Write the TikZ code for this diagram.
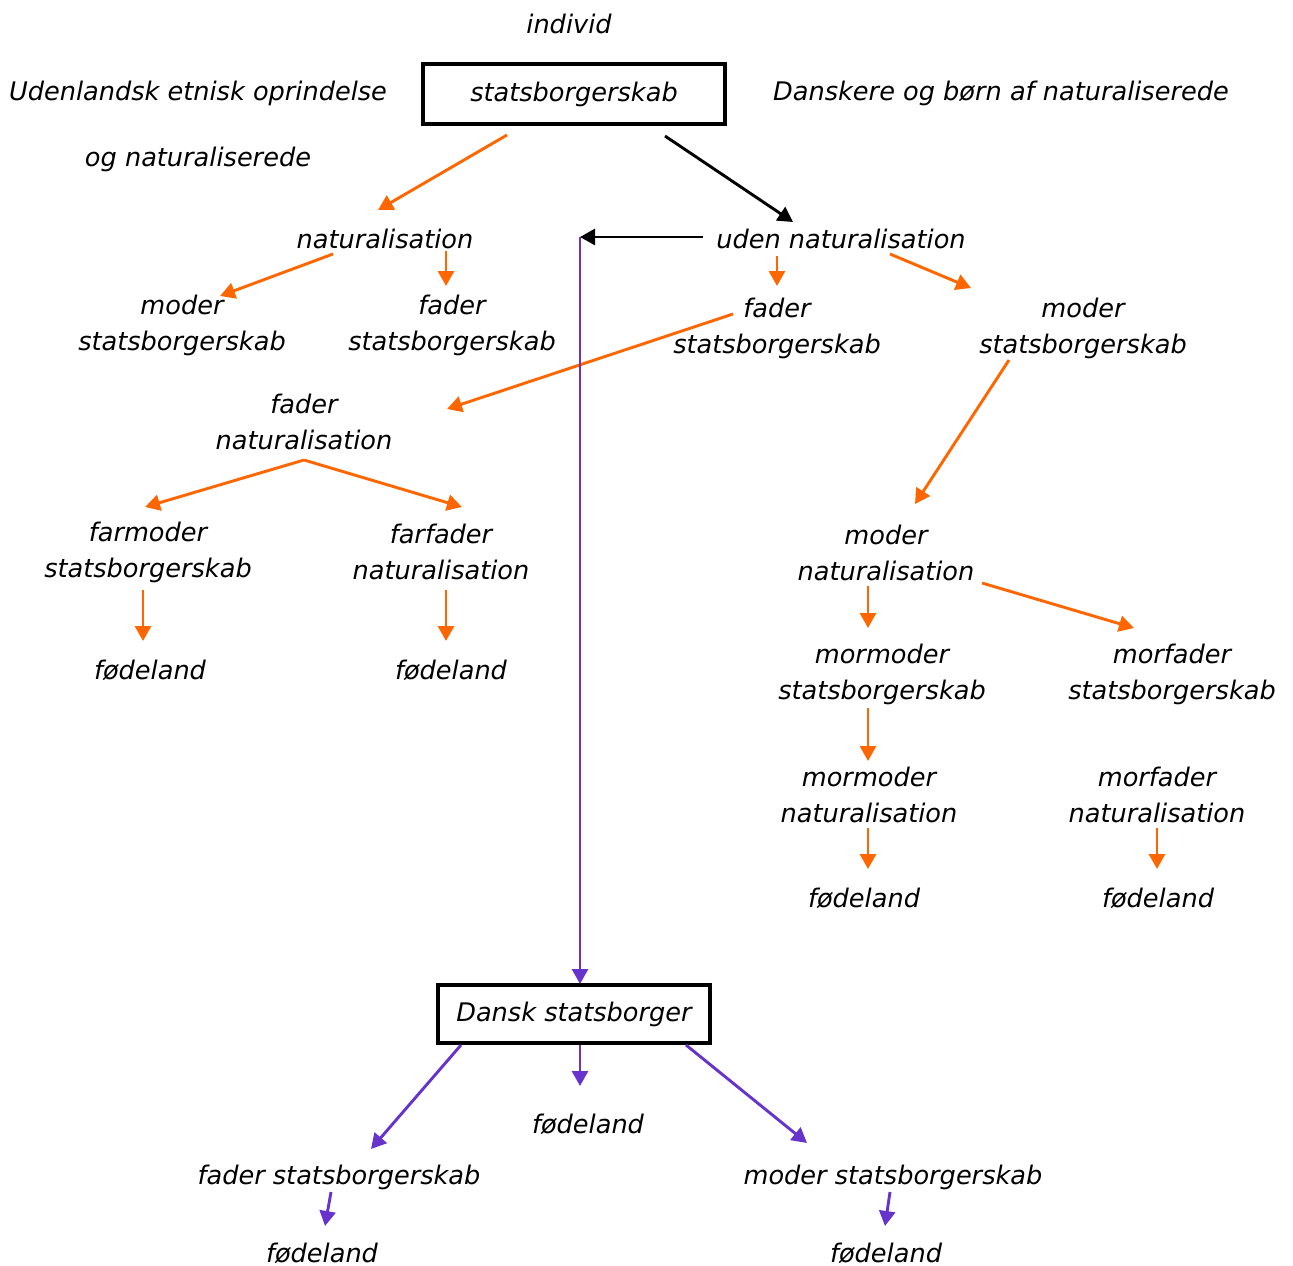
\documentclass[tikz,border=0pt]{standalone}
\usepackage{fontspec}
\setmainfont{DejaVu Sans}
\usetikzlibrary{arrows.meta}
\definecolor{oran}{HTML}{FF6600}
\definecolor{purp}{HTML}{6633CC}
\begin{document}
\begin{tikzpicture}[x=1pt,y=-1pt,
  lbl/.style={font=\fontsize{25.6}{36}\selectfont\itshape, align=center, inner sep=0pt, yshift=-2pt},
  boxn/.style={lbl, draw=black, line width=3.5pt, inner xsep=0pt, inner ysep=0pt},
  tip/.style={-{Triangle[length=15pt,width=16pt]}},
  oa/.style={draw=oran, line width=2.9pt, tip},
  ba/.style={draw=black, line width=2.9pt, tip},
  pa/.style={draw=purp, line width=2.9pt, tip}]
\useasboundingbox (0,0) rectangle (1293,1266);
% text nodes
\node[lbl] (individ) at (569,22) {individ};
\node[lbl] (uden1) at (198,91) {Udenlandsk etnisk oprindelse};
\node[lbl] (uden2) at (198,157) {og naturaliserede};
\node[lbl] (dansk) at (1001,91) {Danskere og børn af naturaliserede};
\node[boxn, minimum width=302pt, minimum height=60pt, yshift=2pt] (top) at (574,94) {statsborgerskab};
\node[lbl] (nat) at (385,237) {naturalisation};
\node[lbl] (unat) at (841,237) {uden naturalisation};
\node[lbl] (ms1) at (182,323) {moder\\statsborgerskab};
\node[lbl] (fs1) at (452,323) {fader\\statsborgerskab};
\node[lbl] (fs2) at (777,326) {fader\\statsborgerskab};
\node[lbl] (ms2) at (1083,326) {moder\\statsborgerskab};
\node[lbl] (fn) at (304,420) {fader\\naturalisation};
\node[lbl] (fms) at (148,550) {farmoder\\statsborgerskab};
\node[lbl] (ffn) at (441,550) {farfader\\naturalisation};
\node[lbl] (fl1) at (150,668) {fødeland};
\node[lbl] (fl2) at (451,668) {fødeland};
\node[lbl] (mn) at (886,551) {moder\\naturalisation};
\node[lbl] (mms) at (882,672) {mormoder\\statsborgerskab};
\node[lbl] (mfs) at (1172,672) {morfader\\statsborgerskab};
\node[lbl] (mmn) at (869,793) {mormoder\\naturalisation};
\node[lbl] (mfn) at (1157,793) {morfader\\naturalisation};
\node[lbl] (fl3) at (864,896) {fødeland};
\node[lbl] (fl4) at (1158,896) {fødeland};
\node[boxn, minimum width=272pt, minimum height=58pt, yshift=2pt] (ds) at (574,1014) {Dansk statsborger};
\node[lbl] (fl5) at (588,1122) {fødeland};
\node[lbl] (fsb) at (339,1175) {fader statsborgerskab};
\node[lbl] (msb) at (893,1175) {moder statsborgerskab};
\node[lbl] (fl6) at (322,1251) {fødeland};
\node[lbl] (fl7) at (886,1251) {fødeland};
% connector end points
\coordinate (a1s) at (507,135); \coordinate (a1e) at (378,210);
\coordinate (a2s) at (333,254); \coordinate (a2e) at (220,296);
\coordinate (a3s) at (446,251); \coordinate (a3e) at (446,286);
\coordinate (a4s) at (777,256); \coordinate (a4e) at (777,286);
\coordinate (a5s) at (890,254); \coordinate (a5e) at (971,288);
\coordinate (a6s) at (733,314); \coordinate (a6e) at (447,409);
\coordinate (a7s) at (1009,360); \coordinate (a7e) at (915,504);
\coordinate (fnb) at (304,460);
\coordinate (a8e) at (145,507); \coordinate (a9e) at (462,507);
\coordinate (a10s) at (143,590); \coordinate (a10e) at (143,641);
\coordinate (a11s) at (446,590); \coordinate (a11e) at (446,641);
\coordinate (a12s) at (868,586); \coordinate (a12e) at (868,628);
\coordinate (a13s) at (982,583); \coordinate (a13e) at (1134,628);
\coordinate (a14s) at (868,708); \coordinate (a14e) at (868,761);
\coordinate (a15s) at (868,828); \coordinate (a15e) at (868,869);
\coordinate (a16s) at (1157,828); \coordinate (a16e) at (1157,869);
\coordinate (b1s) at (665,136); \coordinate (b1e) at (793,222);
\coordinate (b2s) at (703,237); \coordinate (pv) at (580,237);
\coordinate (p1e) at (580,984);
\coordinate (p2s) at (580,1045); \coordinate (p2e) at (580,1086);
\coordinate (p3s) at (461,1045); \coordinate (p3e) at (371,1149);
\coordinate (p4s) at (686,1045); \coordinate (p4e) at (807,1143);
\coordinate (p5s) at (331,1192); \coordinate (p5e) at (325,1226);
\coordinate (p6s) at (890,1192); \coordinate (p6e) at (885,1226);
% orange connectors
\draw[oa] (a1s) -- (a1e);
\draw[oa] (a2s) -- (a2e);
\draw[oa] (a3s) -- (a3e);
\draw[oa] (a4s) -- (a4e);
\draw[oa] (a5s) -- (a5e);
\draw[oa] (a6s) -- (a6e);
\draw[oa] (a7s) -- (a7e);
\draw[oa] (fnb) -- (a8e);
\draw[oa] (fnb) -- (a9e);
\draw[oa] (a10s) -- (a10e);
\draw[oa] (a11s) -- (a11e);
\draw[oa] (a12s) -- (a12e);
\draw[oa] (a13s) -- (a13e);
\draw[oa] (a14s) -- (a14e);
\draw[oa] (a15s) -- (a15e);
\draw[oa] (a16s) -- (a16e);
% black connectors
\draw[ba] (b1s) -- (b1e);
\draw[ba] (b2s) -- (pv);
% purple connectors
\draw[pa] (pv) -- (p1e);
\draw[pa] (p2s) -- (p2e);
\draw[pa] (p3s) -- (p3e);
\draw[pa] (p4s) -- (p4e);
\draw[pa] (p5s) -- (p5e);
\draw[pa] (p6s) -- (p6e);
\end{tikzpicture}
\end{document}
